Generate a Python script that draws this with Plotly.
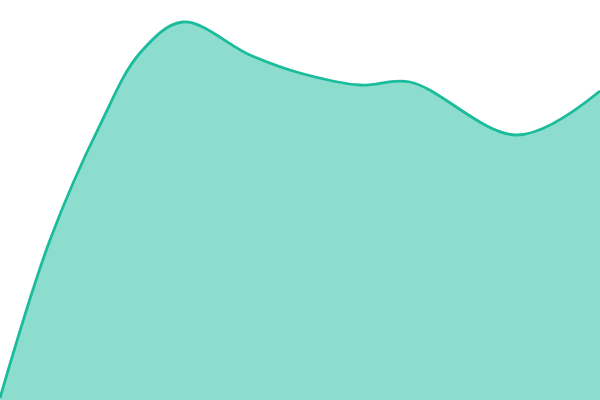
import plotly.graph_objects as go

x_vals = [0, 50, 100, 140, 183, 250, 300, 360, 410, 517, 600]
y_vals = [2, 160, 275, 347, 378, 345, 327, 315, 318, 265, 309]

fig = go.Figure()
fig.add_trace(go.Scatter(
    x=x_vals, y=y_vals, mode="lines",
    line=dict(color="#1abc9c", width=2.8, shape="spline", smoothing=1),
    fill="tozeroy", fillcolor="rgba(26,188,156,0.5)",
    hoverinfo="skip",
))
fig.update_layout(
    width=600, height=400,
    margin=dict(l=0, r=0, t=0, b=0),
    paper_bgcolor="white", plot_bgcolor="white",
    showlegend=False,
    xaxis=dict(visible=False, range=[0, 600]),
    yaxis=dict(visible=False, range=[0, 400]),
)
fig.write_html("out.html", config={"displayModeBar": False})

with open("out.html", "r", encoding="utf-8") as f:
    html = f.read()
html = html.replace("<head>", "<head><style>html,body{margin:0;padding:0;overflow:hidden;}</style>", 1)
with open("out.html", "w", encoding="utf-8") as f:
    f.write(html)
